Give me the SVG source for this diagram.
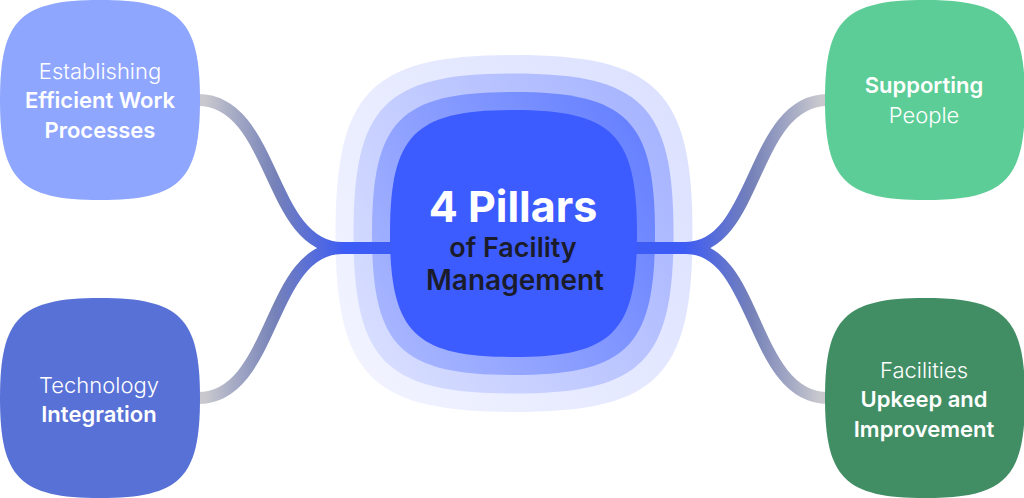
<svg xmlns="http://www.w3.org/2000/svg" xmlns:xlink="http://www.w3.org/1999/xlink" width="1024" height="498" viewBox="0 0 1024 498">
  <defs>
    <path id="sq" d="M100,0 C180,0 200,20 200,100 C200,180 180,200 100,200 C20,200 0,180 0,100 C0,20 20,0 100,0 Z"/>
    <linearGradient id="g1" x1="1" y1="0.2" x2="0" y2="0.8">
      <stop offset="0" stop-color="#DCE1FF"/>
      <stop offset="1" stop-color="#F1F3FF"/>
    </linearGradient>
    <linearGradient id="g2" x1="1" y1="0.2" x2="0" y2="0.8">
      <stop offset="0" stop-color="#A6B4FF"/>
      <stop offset="1" stop-color="#D8DEFF"/>
    </linearGradient>
    <linearGradient id="g3" x1="1" y1="0.2" x2="0" y2="0.8">
      <stop offset="0" stop-color="#6680FF"/>
      <stop offset="1" stop-color="#A8B6FF"/>
    </linearGradient>
    <linearGradient id="cl" gradientUnits="userSpaceOnUse" x1="205" y1="0" x2="345" y2="0">
      <stop offset="0" stop-color="#C8C8CE"/>
      <stop offset="0.5" stop-color="#7682B8"/>
      <stop offset="1" stop-color="#3D5BF5"/>
    </linearGradient>
    <linearGradient id="cr" gradientUnits="userSpaceOnUse" x1="820" y1="0" x2="684" y2="0">
      <stop offset="0" stop-color="#C8C8CE"/>
      <stop offset="0.5" stop-color="#7682B8"/>
      <stop offset="1" stop-color="#3D5BF5"/>
    </linearGradient>
  </defs>
  <style>
    text { font-family: Inter, "Liberation Sans", sans-serif; text-anchor: middle; }
    .lt { font-size: 22px; font-weight: 300; fill: #FFFFFF; }
    .bd { font-size: 22px; font-weight: 600; fill: #FFFFFF; }
    .conn { fill: none; stroke-width: 12; stroke-linecap: butt; }
  </style>
  <rect width="1024" height="498" fill="#FFFFFF"/>

  <g id="halo">
    <use xlink:href="#sq" fill="url(#g1)" transform="translate(335.5,55) scale(1.785)"/>
    <use xlink:href="#sq" fill="url(#g2)" transform="translate(353.5,73.5) scale(1.6)"/>
    <use xlink:href="#sq" fill="url(#g3)" transform="translate(372,92) scale(1.415)"/>
  </g>

  <g id="connectors">
    <path class="conn" stroke="url(#cl)" d="M198,100 C275,100 268,248 342,248 L400,248"/>
    <path class="conn" stroke="url(#cl)" d="M198,398 C275,398 268,248 342,248 L400,248"/>
    <path class="conn" stroke="url(#cr)" d="M828,100 C751,100 758,248 686,248 L628,248"/>
    <path class="conn" stroke="url(#cr)" d="M828,398 C751,398 758,248 686,248 L628,248"/>
  </g>

  <g id="center">
    <use xlink:href="#sq" fill="#3D5CFF" transform="translate(390,110) scale(1.235)"/>
    <text x="513" y="222" style="font-size:43px;font-weight:700;fill:#FFFFFF">4 Pillars</text>
    <text x="513" y="257" style="font-size:27px;font-weight:600;fill:#1B1C2B">of Facility</text>
    <text x="515" y="290" style="font-size:28px;font-weight:600;fill:#1B1C2B">Management</text>
  </g>

  <g id="node-efficient">
    <use xlink:href="#sq" fill="#8FA6FF" transform="translate(0,0)"/>
    <text class="lt" x="100" y="79">Establishing</text>
    <text class="bd" x="100" y="108">Efficient Work</text>
    <text class="bd" x="100" y="138">Processes</text>
  </g>

  <g id="node-technology">
    <use xlink:href="#sq" fill="#5871D6" transform="translate(0,298)"/>
    <text class="lt" x="99" y="393">Technology</text>
    <text class="bd" x="99" y="422">Integration</text>
  </g>

  <g id="node-people">
    <use xlink:href="#sq" fill="#5CCD96" transform="translate(825,0)"/>
    <text class="bd" x="924" y="93">Supporting</text>
    <text class="lt" x="924" y="123">People</text>
  </g>

  <g id="node-facilities">
    <use xlink:href="#sq" fill="#418E65" transform="translate(825,298)"/>
    <text class="lt" x="924" y="378">Facilities</text>
    <text class="bd" x="924" y="407">Upkeep and</text>
    <text class="bd" x="924" y="437">Improvement</text>
  </g>
</svg>
